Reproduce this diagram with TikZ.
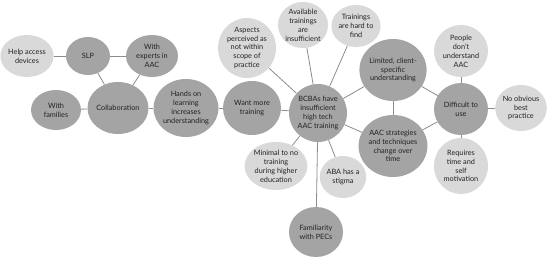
\documentclass[tikz,border=0pt]{standalone}
\usepackage{fontspec}
\setmainfont{Lato}
\usetikzlibrary{shapes.geometric}
\definecolor{darkfill}{HTML}{A4A4A4}
\definecolor{lightfill}{HTML}{D9D9D9}
\definecolor{linkcol}{HTML}{8C8C8C}
\definecolor{txt}{HTML}{222222}
\tikzset{
  bub/.style n args={2}{ellipse, inner sep=0pt, minimum width=#1pt, minimum height=#2pt,
    align=center, font=\fontsize{7.3}{8.9}\selectfont, text=txt},
  dk/.style={fill=darkfill},
  lt/.style={fill=lightfill},
  link/.style={draw=linkcol, line width=0.8pt}
}
\begin{document}
\begin{tikzpicture}[x=1pt,y=-1pt]
\useasboundingbox[fill=white] (0,0) rectangle (550,260);
% nodes
\node[bub={48}{42}, lt] (help) at (27,56) {Help access\\devices};
\node[bub={44}{38}, dk] (slp) at (88,56) {SLP};
\node[bub={52}{42}, dk] (exp) at (152,56) {With\\experts in\\AAC};
\node[bub={50}{40}, dk] (fam) at (56,110) {With\\families};
\node[bub={58}{52}, dk] (col) at (118,108) {Collaboration};
\node[bub={62}{58}, dk] (hands) at (186,108) {Hands on\\learning\\increases\\understanding};
\node[bub={58}{54}, dk] (want) at (252,108) {Want more\\training};
\node[bub={58}{60}, lt] (asp) at (247,48) {Aspects\\perceived as\\not within\\scope of\\practice};
\node[bub={50}{46}, lt] (avail) at (303,25) {Available\\trainings\\are\\insufficient};
\node[bub={48}{42}, lt] (hard) at (356,26) {Trainings\\are hard to\\find};
\node[bub={58}{58}, dk] (bcba) at (318,113) {BCBAs have\\insufficient\\high tech\\AAC training};
\node[bub={64}{62}, dk] (lim) at (393,70) {Limited, client-\\specific\\understanding};
\node[bub={64}{62}, dk] (strat) at (393,146) {AAC strategies\\and techniques\\change over\\time};
\node[bub={54}{52}, dk] (diff) at (461,109) {Difficult to\\use};
\node[bub={54}{52}, lt] (people) at (461,51) {People\\don't\\understand\\AAC};
\node[bub={50}{46}, lt] (nobest) at (521,108) {No obvious\\best\\practice};
\node[bub={54}{56}, lt] (req) at (461,166) {Requires\\time and\\self\\motivation};
\node[bub={58}{48}, lt] (min) at (276,166) {Minimal to no\\training\\during higher\\education};
\node[bub={46}{42}, lt] (aba) at (343,177) {ABA has a\\stigma};
\node[bub={54}{50}, dk] (pecs) at (316,232) {Familiarity\\with PECs};
% links
\draw[link] (help) -- (slp);
\draw[link] (slp) -- (exp);
\draw[link] (slp) -- (col);
\draw[link] (exp) -- (col);
\draw[link] (fam) -- (col);
\draw[link] (col) -- (hands);
\draw[link] (hands) -- (want);
\draw[link] (want) -- (bcba);
\draw[link] (asp) -- (bcba);
\draw[link] (avail) -- (bcba);
\draw[link] (hard) -- (bcba);
\draw[link] (lim) -- (bcba);
\draw[link] (strat) -- (bcba);
\draw[link] (min) -- (bcba);
\draw[link] (aba) -- (bcba);
\draw[link] (pecs) -- (bcba);
\draw[link] (lim) -- (strat);
\draw[link] (lim) -- (diff);
\draw[link] (strat) -- (diff);
\draw[link] (diff) -- (people);
\draw[link] (diff) -- (nobest);
\draw[link] (diff) -- (req);
\end{tikzpicture}
\end{document}
